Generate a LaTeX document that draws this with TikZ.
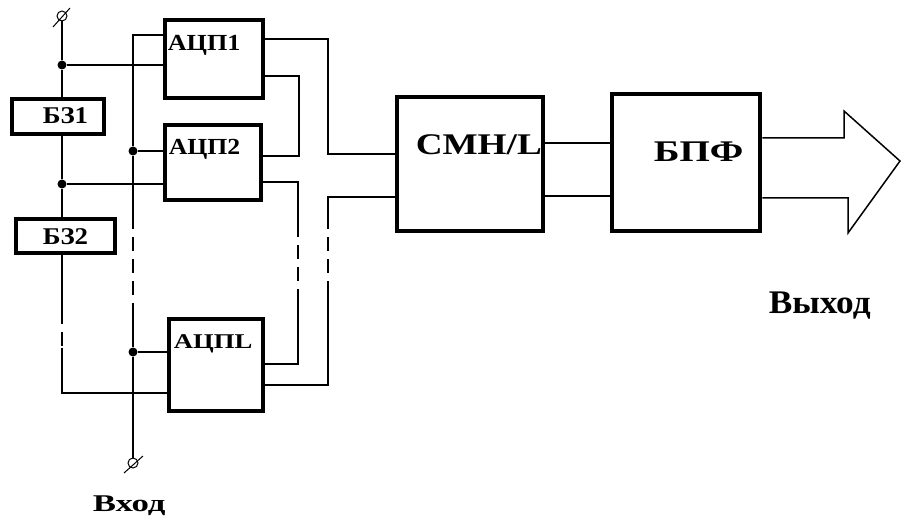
\documentclass[tikz,border=0pt]{standalone}
\usepackage{fontspec}
\setmainfont{Liberation Serif}
\newcommand{\stretchtxt}[2]{\scalebox{#1}[1]{#2}}

\begin{document}
\begin{tikzpicture}[x=1pt,y=-1pt,line width=1.5pt,
  blk/.style={draw, line width=4.5pt, inner sep=0pt},
  dot/.style={circle, fill, inner sep=0pt, minimum size=9pt},
  term/.style={circle, draw, line width=1pt, inner sep=0pt, minimum size=10pt},
  lbl/.style={inner sep=0pt, anchor=base west, font=\bfseries\fontsize{#1}{#1}\selectfont},
  brk/.style={dash pattern=on 14pt off 8pt}]
\useasboundingbox (0,0) rectangle (901,518);

% blocks
\node[blk, minimum width=92pt, minimum height=35pt] (bz1) at (58,116.5) {};
\node[blk, minimum width=99pt, minimum height=34pt] (bz2) at (65.5,236) {};
\node[blk, minimum width=98pt, minimum height=78pt] (adc1) at (214,59) {};
\node[blk, minimum width=96pt, minimum height=75pt] (adc2) at (213,162.5) {};
\node[blk, minimum width=94pt, minimum height=92pt] (adcL) at (216,365) {};
\node[blk, minimum width=146pt, minimum height=134pt] (smn) at (470,164) {};
\node[blk, minimum width=148pt, minimum height=137pt] (bpf) at (686,162.5) {};

\node[lbl=24] (tbz1) at (42,124) {\stretchtxt{1.12}{БЗ1}};
\node[lbl=24] (tbz2) at (42,245) {\stretchtxt{1.12}{БЗ2}};
\node[lbl=23] (tadc1) at (167,51) {\stretchtxt{1.14}{АЦП1}};
\node[lbl=23] (tadc2) at (168,155) {\stretchtxt{1.12}{АЦП2}};
\node[lbl=21] (tadcL) at (173,348) {\stretchtxt{1.27}{АЦПL}};
\node[lbl=30] (tsmn) at (415,155) {\stretchtxt{1.24}{СМН/L}};
\node[lbl=30] (tbpf) at (653,162) {\stretchtxt{1.3}{БПФ}};
\node[lbl=33] (tout) at (768,313) {\stretchtxt{1.07}{Выход}};
\node[lbl=24] (tin) at (92,511) {\stretchtxt{1.45}{Вход}};

% terminals and junctions
\node[term] (t1) at (62,16) {};
\node[term] (t2) at (133,463) {};
\draw[line width=1pt] ([shift={(-9,11)}]t1.center) -- ([shift={(8,-8)}]t1.center);
\draw[line width=1pt] ([shift={(-9,10)}]t2.center) -- ([shift={(10,-7)}]t2.center);
\node[dot] (j1) at (62,65) {};
\node[dot] (j2) at (62,184) {};
\node[dot] (j3) at (133,151) {};
\node[dot] (j4) at (133,352) {};

% delay chain
\draw (t1) -- (j1) -- (j1 |- bz1.north);
\draw (j1 |- bz1.south) -- (j2) -- (j2 |- bz2.north);
\draw (j1) -- (j1 -| adc1.west);
\draw (j2) -- (j2 -| adc2.west);
\coordinate (a1) at (62,310);
\coordinate (a2) at (62,348);
\coordinate (a3) at (62,393);
\draw (j2 |- bz2.south) -- (a1);
\draw[brk] (a1) -- (a2);
\draw (a2) -- (a3) -- (a3 -| adcL.west);

% input bus
\coordinate (b0) at (133,35);
\coordinate (b1) at (133,215);
\coordinate (b2) at (133,305);
\draw (b0 -| adc1.west) -- (b0) -- (j3) -- (b1);
\draw[brk] (b1) -- (b2);
\draw (b2) -- (j4) -- (t2);
\draw (j3) -- (j3 -| adc2.west);
\draw (j4) -- (j4 -| adcL.west);

% outputs
\coordinate (c0) at (328,39);
\coordinate (c1) at (328,154);
\draw (adc1.east |- c0) -- (c0) -- (c1) -- (c1 -| smn.west);
\coordinate (d0) at (299,76);
\coordinate (d1) at (299,156);
\draw (adc1.east |- d0) -- (d0) -- (d1) -- (d1 -| adc2.east);
\coordinate (e0) at (298,182);
\coordinate (e1) at (298,223);
\coordinate (e2) at (298,292);
\coordinate (e3) at (298,364);
\draw (adc2.east |- e0) -- (e0) -- (e1);
\draw[brk] (e1) -- (e2);
\draw (e2) -- (e3) -- (e3 -| adcL.east);
\coordinate (f0) at (328,385);
\coordinate (f1) at (328,295);
\coordinate (f2) at (328,222);
\coordinate (f3) at (328,197);
\draw (adcL.east |- f0) -- (f0) -- (f1);
\draw[brk] (f1) -- (f2);
\draw (f2) -- (f3) -- (f3 -| smn.west);

\draw (smn.east |- 0,143) -- (bpf.west |- 0,143);
\draw (smn.east |- 0,196) -- (bpf.west |- 0,196);

% output arrow
\coordinate (g0) at (844,138);
\coordinate (g1) at (844,111);
\coordinate (g2) at (900,161);
\coordinate (g3) at (848,233);
\coordinate (g4) at (848,198);
\draw (bpf.east |- g0) -- (g0) -- (g1) -- (g2) -- (g3) -- (g4) -- (g4 -| bpf.east);

\end{tikzpicture}
\end{document}
